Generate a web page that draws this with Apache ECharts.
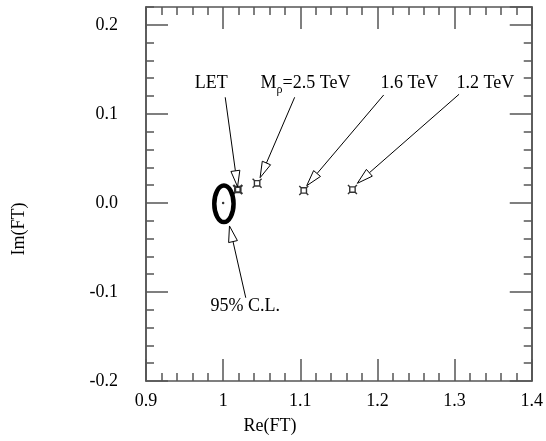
<!doctype html>
<html>
<head>
<meta charset="utf-8">
<title>Re(FT) - Im(FT)</title>
<script src="https://cdn.jsdelivr.net/npm/echarts@6/dist/echarts.min.js"></script>
<style>html,body{margin:0;padding:0;background:#fff;}</style>
</head>
<body>
<div id="chart" style="width:546px;height:441px;"></div>
<script type="text/javascript">
// axis ranges / ticks
var xMin = 0.9, xMax = 1.4, xStep = 0.1;
var yMin = -0.2, yMax = 0.22, yStep = 0.1, yMinorStep = 0.02;

// model points (Re, Im)
var pointNames = ['LET', '2.5 TeV', '1.6 TeV', '1.2 TeV'];
var pointRe = [1.019, 1.044, 1.1045, 1.1676];
var pointIm = [0.015, 0.022, 0.014, 0.015];

// 95% C.L. contour
var clRe = [1.001, 1.0098, 1.0135, 1.0098, 1.001, 0.9922, 0.9885, 0.9922];
var clIm = [0.0195, 0.0135, -0.001, -0.0155, -0.0215, -0.0155, -0.001, 0.0135];
var bestFit = [1.0, 0.0];

// annotations: text anchor and arrows (data units)
var noteText = ['LET', 'M_rho', '1.6 TeV', '1.2 TeV', '95% C.L.'];
var noteRe = [0.9847, 1.1067, 1.2415, 1.3398, 1.0287];
var noteIm = [0.1346, 0.1346, 0.1346, 0.1346, -0.1166];
var arrowFromRe = [1.0027, 1.0927, 1.2081, 1.3058, 1.0293];
var arrowFromIm = [0.1186, 0.1186, 0.1212, 0.1220, -0.1065];
var arrowToRe = [1.0187, 1.0479, 1.1083, 1.1739, 1.0082];
var arrowToIm = [0.0182, 0.0283, 0.0193, 0.0220, -0.0259];

var FONT = '"Liberation Serif", "Times New Roman", serif';
var frame = {color: '#555', width: 1.5};

var ctx = document.createElement('canvas').getContext('2d');
function textWidth(s, size) {
  ctx.font = size + 'px ' + FONT;
  return ctx.measureText(s).width;
}

function xAxis(pos, labels) {
  return {
    type: 'value', position: pos, min: xMin, max: xMax, interval: xStep,
    axisLine: {show: true, onZero: false, lineStyle: frame},
    axisTick: {show: true, inside: true, length: 22, lineStyle: frame},
    minorTick: {show: true, splitNumber: 5, length: 8, lineStyle: frame},
    splitLine: {show: false},
    axisLabel: {show: labels, margin: 11, color: '#000', fontSize: 18, fontFamily: FONT}
  };
}
function yAxis(pos, step, len, labels) {
  return {
    type: 'value', position: pos, min: yMin, max: yMax, interval: step,
    axisLine: {show: true, onZero: false, lineStyle: frame},
    axisTick: {show: true, inside: true, length: len, lineStyle: frame},
    splitLine: {show: false},
    axisLabel: {
      show: labels, margin: 28, color: '#000', fontSize: 18, fontFamily: FONT,
      showMaxLabel: false,
      formatter: function (v) {
        if (Math.abs(v - yMax) < 1e-9) return '';
        return v.toFixed(1);
      }
    }
  };
}

var markerData = pointRe.map(function (x, i) {
  var d = {name: pointNames[i], value: [x, pointIm[i]]};
  if (i === 0) d.itemStyle = {borderWidth: 2.2};
  return d;
});
var arrowData = arrowFromRe.map(function (x, i) {
  return [x, arrowFromIm[i], arrowToRe[i], arrowToIm[i]];
});
var noteData = noteRe.map(function (x, i) { return [x, noteIm[i]]; });

var mychart = echarts.init(document.getElementById('chart'));
mychart.setOption({
  animation: false,
  grid: {left: 146, right: 6, top: 7, bottom: 60},
  xAxis: [xAxis('bottom', true), xAxis('top', false)],
  yAxis: [
    yAxis('left', yStep, 22, true), yAxis('left', yMinorStep, 8, false),
    yAxis('right', yStep, 22, false), yAxis('right', yMinorStep, 8, false)
  ],
  graphic: [
    {type: 'text', x: 270, y: 426,
      style: {text: 'Re(FT)', font: '18px ' + FONT, fill: '#000',
        textAlign: 'center', textVerticalAlign: 'middle'}},
    {type: 'text', x: 19, y: 229, rotation: Math.PI / 2,
      style: {text: 'Im(FT)', font: '18px ' + FONT, fill: '#000',
        textAlign: 'center', textVerticalAlign: 'middle'}}
  ],
  series: [
    {
      type: 'custom', silent: true, data: [[bestFit[0], bestFit[1]]],
      renderItem: function (params, api) {
        var pts = clRe.map(function (x, i) { return api.coord([x, clIm[i]]); });
        return {type: 'polygon', shape: {points: pts, smooth: 0.4},
          style: {fill: 'none', stroke: '#000', lineWidth: 4.5}};
      }
    },
    {
      type: 'scatter', silent: true, symbol: 'circle', symbolSize: 2.5,
      itemStyle: {color: '#000'}, data: [bestFit]
    },
    {
      type: 'scatter', silent: true,
      symbol: 'path://M3,3L9,3L9,9L3,9Z M1,1L3,3 M11,1L9,3 M11,11L9,9 M1,11L3,9',
      symbolSize: 9,
      itemStyle: {color: 'rgba(0,0,0,0)', borderColor: '#000', borderWidth: 1.4},
      data: markerData
    },
    {
      type: 'custom', silent: true, data: arrowData,
      renderItem: function (params, api) {
        var s = api.coord([api.value(0), api.value(1)]);
        var t = api.coord([api.value(2), api.value(3)]);
        var dx = t[0] - s[0], dy = t[1] - s[1];
        var len = Math.sqrt(dx * dx + dy * dy);
        var ux = dx / len, uy = dy / len;
        var hl = 16, hw = 4.5;
        var b = [t[0] - ux * hl, t[1] - uy * hl];
        return {
          type: 'group',
          children: [
            {type: 'line', shape: {x1: s[0], y1: s[1], x2: b[0], y2: b[1]},
              style: {stroke: '#000', lineWidth: 1}},
            {type: 'polygon',
              shape: {points: [t, [b[0] - uy * hw, b[1] + ux * hw], [b[0] + uy * hw, b[1] - ux * hw]]},
              style: {fill: '#fff', stroke: '#000', lineWidth: 1}}
          ]
        };
      }
    },
    {
      type: 'custom', silent: true, data: noteData,
      renderItem: function (params, api) {
        var p = api.coord([api.value(0), api.value(1)]);
        var txt = noteText[params.dataIndex];
        var f18 = '18px ' + FONT;
        if (txt !== 'M_rho') {
          return {type: 'text', style: {text: txt, x: p[0], y: p[1], font: f18, fill: '#000',
            textAlign: 'center', textVerticalAlign: 'middle'}};
        }
        var w1 = textWidth('M', 18), w2 = textWidth('ρ', 12), w3 = textWidth('=2.5 TeV', 18);
        var x0 = p[0] - (w1 + w2 + w3) / 2;
        return {
          type: 'group',
          children: [
            {type: 'text', style: {text: 'M', x: x0, y: p[1], font: f18, fill: '#000',
              textAlign: 'left', textVerticalAlign: 'middle'}},
            {type: 'text', style: {text: 'ρ', x: x0 + w1, y: p[1] + 7, font: '12px ' + FONT, fill: '#000',
              textAlign: 'left', textVerticalAlign: 'middle'}},
            {type: 'text', style: {text: '=2.5 TeV', x: x0 + w1 + w2, y: p[1], font: f18, fill: '#000',
              textAlign: 'left', textVerticalAlign: 'middle'}}
          ]
        };
      }
    }
  ]
});
</script>
</body>
</html>
